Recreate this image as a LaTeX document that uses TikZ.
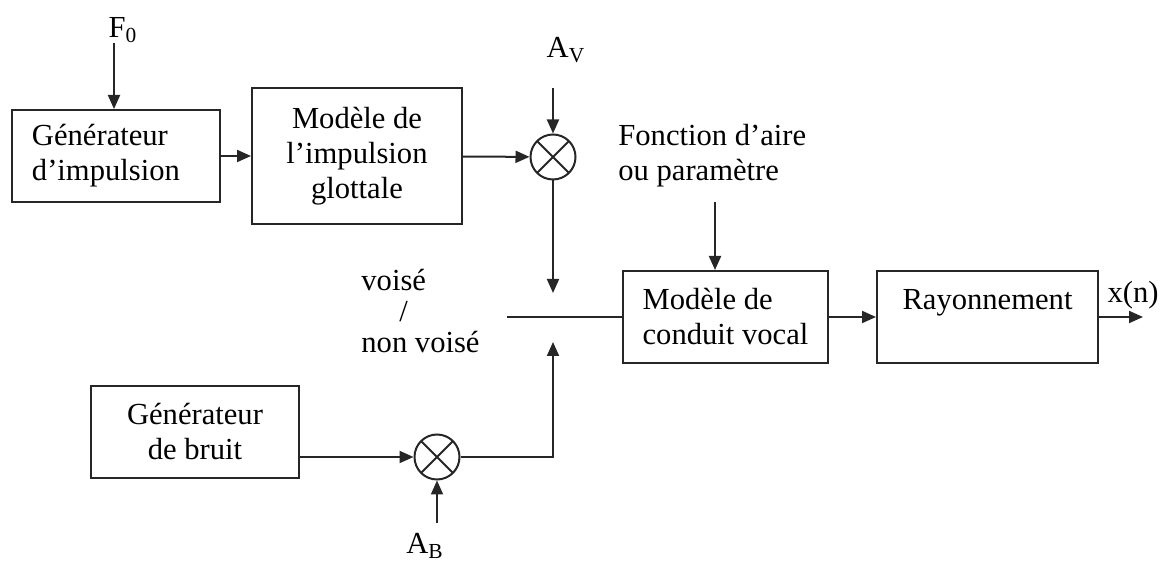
\documentclass[tikz,border=0pt]{standalone}
\usepackage{fontspec}
\setmainfont{Liberation Serif}
\usetikzlibrary{arrows.meta}
\tikzset{
	block/.style={rectangle, draw=black!85, line width=1pt,
		minimum width=104pt, minimum height=46pt,
		font=\fontsize{15.3}{17.5}\selectfont, align=center, inner sep=4pt},
	mult/.style={circle, draw=black!85, line width=1pt,
		minimum size=22.5pt, inner sep=0pt,
		path picture={\draw[line width=0.9pt, black!85]
			(path picture bounding box.north west) -- (path picture bounding box.south east)
			(path picture bounding box.north east) -- (path picture bounding box.south west);}},
	sig/.style={-{Triangle[length=7pt,width=6pt]}, line width=1pt, draw=black!85},
	wire/.style={line width=1pt, draw=black!85},
	lbl/.style={font=\fontsize{15.3}{17.5}\selectfont, inner sep=0pt}
}

\begin{document}
\begin{tikzpicture}[x=0.5pt, y=-0.5pt]
	\useasboundingbox (0,0) rectangle (1161,565);

	% voie voisee
	\node[block, text width=84pt, align=left] (gen) at (116,156)
	{Générateur\\d’impulsion};
	\node[block, minimum width=105pt, minimum height=68pt] (glot) at (357,156)
	{Modèle de\\l’impulsion\\glottale};
	\node[mult] (mv) at (553,157) {};
	\node[lbl] (f0) at (123,30) {F\textsubscript{0}};
	\node[lbl] (av) at (566,50) {A\textsubscript{V}};

	% voie non voisee
	\node[block] (bruit) at (195,432) {Générateur\\de bruit};
	\node[mult] (mb) at (437,457) {};
	\node[lbl] (ab) at (425,546) {A\textsubscript{B}};

	% conduit et rayonnement
	\node[block, minimum width=102.5pt, align=left] (conduit) at (725.5,317)
	{Modèle de\\conduit vocal};
	\node[block, minimum width=110.5pt] (rayon) at (987.5,317)
	{Rayonnement\\\mbox{}};
	\node[lbl, anchor=west, align=left] (aire) at (618,156)
	{Fonction d’aire\\ou paramètre};
	\node[lbl, anchor=west, align=left,
		font=\fontsize{15.3}{15.5}\selectfont] (switch) at (361,311)
	{voisé\\\hspace*{19pt}/\\non voisé};
	\node[lbl] (xn) at (1133,295) {x(n)};

	\coordinate (f0in) at (114,43);
	\coordinate (avin) at (553,88);
	\coordinate (airein) at (715,202);
	\coordinate (abin) at (437,523);
	\coordinate (vtip) at (553,293);
	\coordinate (ntip) at (553,342);
	\coordinate (sw) at (507,317);
	\coordinate (out) at (1143,317);

	\draw[sig] (f0in) -- (f0in |- gen.north);
	\draw[sig] (gen) -- (glot);
	\draw[sig] (glot) -- (mv);
	\draw[sig] (avin) -- (mv);
	\draw[sig] (mv) -- (vtip);
	\draw[sig] (mb -| bruit.east) -- (mb);
	\draw[sig] (abin) -- (mb);
	\draw[sig] (mb) -| (ntip);
	\draw[wire] (sw) -- (conduit.west);
	\draw[sig] (airein) -- (airein |- conduit.north);
	\draw[sig] (conduit) -- (rayon);
	\draw[sig] (rayon) -- (out);
\end{tikzpicture}
\end{document}
